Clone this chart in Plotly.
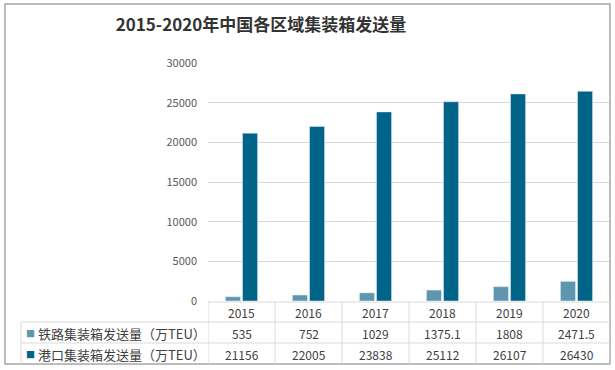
import plotly.graph_objects as go

years = ["2015", "2016", "2017", "2018", "2019", "2020"]
rail = [535, 752, 1029, 1375.1, 1808, 2471.5]
port = [21156, 22005, 23838, 25112, 26107, 26430]
rail_name = "铁路集装箱发送量（万TEU）"
port_name = "港口集装箱发送量（万TEU）"
title_text = "2015-2020年中国各区域集装箱发送量"
y_ticks = [0, 5000, 10000, 15000, 20000, 25000, 30000]

c_rail = "#5E96AE"
c_port = "#006489"
grid = "#D9D9D9"
txt = "#404040"
font_cjk = "Noto Sans CJK SC"

W, H = 615, 370
L, R, T, B = 208, 610, 63, 301  # plot area in pixels


def px(xp):
    return (xp - L) / (R - L)


def py(yp):
    return (B - yp) / (B - T)


fig = go.Figure()
fig.add_bar(x=years, y=rail, name=rail_name, marker_color=c_rail)
fig.add_bar(x=years, y=port, name=port_name, marker_color=c_port)

shapes = []
# outer chart border
shapes.append(dict(type="rect", xref="paper", yref="paper",
                   x0=px(5), x1=px(610), y0=py(364), y1=py(4),
                   line=dict(color="#A6A6A6", width=1.5)))
# table horizontal lines
shapes.append(dict(type="line", xref="paper", yref="paper",
                   x0=0, x1=1, y0=py(302), y1=py(302), line=dict(color=grid, width=1)))
for yl in (322, 343):
    shapes.append(dict(type="line", xref="paper", yref="paper",
                       x0=px(21), x1=1, y0=py(yl), y1=py(yl), line=dict(color=grid, width=1)))
# table vertical lines
shapes.append(dict(type="line", xref="paper", yref="paper",
                   x0=px(21), x1=px(21), y0=py(322), y1=py(364), line=dict(color=grid, width=1)))
for i in range(len(years) + 1):
    xv = i - 0.5
    shapes.append(dict(type="line", xref="x", yref="paper",
                       x0=xv, x1=xv, y0=py(302), y1=py(364), line=dict(color=grid, width=1)))

annotations = []
row_y = {"year": py(312), "rail": py(333), "port": py(354)}
cell_font = dict(size=12, color=txt, family=font_cjk)
for i, yr in enumerate(years):
    for key, text in (("year", yr), ("rail", f"{rail[i]:g}"), ("port", f"{port[i]:g}")):
        annotations.append(dict(x=i, y=row_y[key], xref="x", yref="paper", text=text,
                                xanchor="center", yanchor="middle",
                                showarrow=False, font=cell_font))

for key, name, col in (("rail", rail_name, c_rail), ("port", port_name, c_port)):
    annotations.append(dict(x=px(24), y=row_y[key], xref="paper", yref="paper", text="■",
                            xanchor="left", yanchor="middle", showarrow=False,
                            font=dict(size=9, color=col, family=font_cjk)))
    annotations.append(dict(x=px(36), y=row_y[key], xref="paper", yref="paper", text=name,
                            xanchor="left", yanchor="middle", showarrow=False,
                            font=dict(size=13, color=txt, family=font_cjk)))

fig.update_layout(
    width=W, height=H,
    margin=dict(l=L, r=W - R, t=T, b=H - B, pad=0),
    paper_bgcolor="white", plot_bgcolor="white",
    showlegend=False,
    barmode="group", bargap=0.49, bargroupgap=0.12,
    title=dict(text=f"<b>{title_text}</b>", x=261 / W, xref="container",
               xanchor="center", y=1 - 25 / H, yanchor="middle",
               font=dict(size=17, color="#333333", family=font_cjk)),
    xaxis=dict(type="category", range=[-0.5, 5.5], showticklabels=False, showgrid=False,
               zeroline=False, showline=False, ticks=""),
    yaxis=dict(range=[0, 30000], tickvals=y_ticks, tickformat="d", showgrid=True,
               gridcolor=grid, gridwidth=1,
               zeroline=False, showline=False, ticks="", ticklabelstandoff=10,
               tickfont=dict(size=11, color="#595959", family=font_cjk)),
    shapes=shapes,
    annotations=annotations,
)

fig.write_html("out.html", config={"displayModeBar": False},
               post_script="document.body.style.margin='0';")
